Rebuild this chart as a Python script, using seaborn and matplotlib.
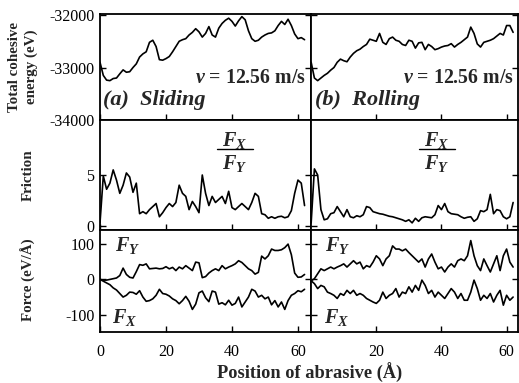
import numpy as np
import pandas as pd
import matplotlib
matplotlib.use("Agg")
import matplotlib.pyplot as plt
from matplotlib.lines import Line2D
import seaborn as sns

# ---------------- data ----------------
pos_left = list(range(0, 63))    # 0..62 Å
pos_right = list(range(0, 63))

energy_sliding = [-32900, -33150, -33240, -33250, -33210, -33200, -33120, -33045, -33090, -33080,
                  -33000, -32930, -32800, -32740, -32700, -32520, -32480, -32600, -32850, -32860,
                  -32830, -32790, -32700, -32600, -32500, -32470, -32450, -32380, -32330, -32260,
                  -32320, -32420, -32350, -32220, -32380, -32420, -32250, -32160, -32100, -32060,
                  -32120, -32210, -32110, -32030, -32090, -32300, -32450, -32500, -32480, -32420,
                  -32380, -32350, -32340, -32300, -32200, -32120, -32180, -32080, -32200, -32360,
                  -32450, -32430, -32470]
energy_rolling = [-32900, -33200, -33250, -33200, -33150, -33110, -33050, -33000, -32900, -32840,
                  -32870, -32890, -32800, -32730, -32680, -32650, -32600, -32560, -32460, -32480,
                  -32500, -32350, -32520, -32560, -32450, -32420, -32480, -32500, -32560, -32580,
                  -32480, -32500, -32630, -32530, -32520, -32660, -32560, -32600, -32660, -32640,
                  -32610, -32590, -32580, -32545, -32610, -32560, -32520, -32470, -32420, -32230,
                  -32350, -32550, -32610, -32520, -32500, -32480, -32450, -32400, -32350, -32380,
                  -32200, -32200, -32330]

friction_sliding = [0.3, 4.9, 3.6, 4.2, 5.5, 4.5, 3.2, 4.0, 5.2, 4.8,
                    3.3, 4.2, 1.2, 1.4, 1.2, 1.6, 1.9, 2.2, 0.9, 1.3,
                    1.8, 2.2, 1.9, 2.3, 4.0, 3.2, 2.9, 1.6, 2.4, 1.9,
                    1.3, 5.0, 3.2, 2.0, 2.9, 2.3, 2.6, 2.9, 2.2, 3.4,
                    1.8, 1.6, 1.9, 2.2, 1.9, 1.6, 2.3, 3.2, 2.9, 1.2,
                    1.1, 0.75, 0.9, 0.75, 0.9, 0.95, 0.8, 0.9, 1.5, 3.2,
                    4.5, 4.2, 2.0]
friction_rolling = [0.3, 5.6, 5.0, 1.6, 0.6, 0.7, 1.2, 1.3, 1.9, 1.4,
                    0.9, 1.6, 0.9, 0.8, 1.0, 0.9, 1.1, 1.9, 1.8, 1.4,
                    1.3, 1.2, 1.15, 1.05, 0.95, 0.9, 0.8, 0.7, 0.6, 0.45,
                    0.6, 0.3, 0.75, 0.45, 0.8, 0.9, 0.85, 0.8, 1.1, 2.0,
                    1.6, 2.2, 1.4, 1.2, 1.15, 1.1, 0.9, 0.75, 0.85, 0.9,
                    0.45, 0.7, 1.5, 1.4, 1.6, 3.1, 1.2, 1.6, 1.5, 0.9,
                    0.7, 0.9, 2.3]

fy_sliding = [0, -2, -2, 0, 2, 4, 11, 32, 14, 6,
              4, 22, 42, 40, 44, 30, 31, 32, 30, 31,
              36, 30, 34, 25, 35, 30, 39, 32, 25, 49,
              47, 5, 8, 18, 25, 30, 25, 39, 30, 35,
              39, 44, 53, 48, 39, 30, 25, 15, 20, 66,
              58, 67, 86, 82, 82, 84, 90, 100, 70, 18,
              6, 7, 14]
fx_sliding = [0, -5, -10, -15, -24, -30, -40, -50, -45, -36,
              -37, -42, -32, -50, -62, -60, -55, -45, -28, -40,
              -42, -47, -55, -60, -69, -60, -48, -62, -85, -70,
              -38, -33, -52, -63, -33, -36, -70, -66, -72, -59,
              -73, -68, -50, -78, -64, -50, -28, -33, -50, -45,
              -55, -50, -72, -60, -78, -64, -85, -60, -45, -40,
              -32, -35, -28]
fy_rolling = [-4, 2, 16, 30, 25, 30, 35, 30, 35, 39,
              44, 35, 44, 53, 44, 49, 30, 39, 35, 49,
              67, 58, 39, 58, 67, 95, 86, 86, 81, 86,
              76, 67, 58, 49, 58, 35, 58, 72, 49, 30,
              35, 21, 35, 44, 35, 53, 58, 53, 67, 110,
              67, 39, 25, 58, 39, 21, 44, 67, 25, 67,
              86, 49, 35]
fx_rolling = [-4, -12, -26, -17, -21, -36, -40, -45, -54, -40,
              -45, -31, -40, -31, -45, -40, -45, -54, -59, -64,
              -68, -59, -36, -54, -45, -40, -26, -50, -36, -40,
              -21, -36, -17, -31, -2, -17, -40, -31, -50, -36,
              -45, -54, -40, -26, -36, -54, -40, -59, -59, -36,
              -2, -26, -59, -45, -54, -40, -64, -45, -31, -73,
              -45, -59, -50]

x_ticks_left = [0, 20, 40, 60]
x_ticks_right = [20, 40, 60]
energy_ticks = [-34000, -33000, -32000]
friction_ticks = [0, 5]
force_ticks = [-100, 0, 100]

# ---------------- style ----------------
sns.set_style("ticks")
plt.rcParams["font.family"] = ["Liberation Serif", "DejaVu Serif"]
plt.rcParams["axes.unicode_minus"] = False
plt.rcParams["mathtext.fontset"] = "custom"
plt.rcParams["mathtext.it"] = "Liberation Serif:italic:bold"
plt.rcParams["mathtext.rm"] = "Liberation Serif:bold"
plt.rcParams["mathtext.bf"] = "Liberation Serif:bold"

W, H = 519, 383
fig = plt.figure(figsize=(W / 100, H / 100), dpi=100)

def fx(px):
    return px / W

def fy(py):
    return 1 - py / H

x_edges = [100, 310.5, 518]
y_edges = [14, 120, 230, 332]

axes = [[None, None] for _ in range(3)]
for r in range(3):
    for c in range(2):
        l = fx(x_edges[c]); w = fx(x_edges[c + 1]) - l
        b = fy(y_edges[r + 1]); h = fy(y_edges[r]) - b
        axes[r][c] = fig.add_axes([l, b, w, h])

df_l = pd.DataFrame({"pos": pos_left, "E": energy_sliding, "mu": friction_sliding,
                     "Fy": fy_sliding, "Fx": fx_sliding})
df_r = pd.DataFrame({"pos": pos_right, "E": energy_rolling, "mu": friction_rolling,
                     "Fy": fy_rolling, "Fx": fx_rolling})

lw = 1.2
for c, df in enumerate([df_l, df_r]):
    sns.lineplot(data=df, x="pos", y="E", ax=axes[0][c], color="black", lw=lw)
    sns.lineplot(data=df, x="pos", y="mu", ax=axes[1][c], color="black", lw=lw)
    sns.lineplot(data=df, x="pos", y="Fy", ax=axes[2][c], color="black", lw=lw)
    sns.lineplot(data=df, x="pos", y="Fx", ax=axes[2][c], color="black", lw=lw)

ylims = [(-34000, -31980), (-0.4, 10.4), (-149, 140)]
yticks = [energy_ticks, friction_ticks, force_ticks]
for r in range(3):
    for c in range(2):
        ax = axes[r][c]
        ax.set_xlabel("")
        ax.set_ylabel("")
        ax.set_ylim(*ylims[r])
        if c == 0:
            ax.set_xlim(0, 63.8)
            ax.set_xticks(x_ticks_left)
        else:
            ax.set_xlim(-0.2, 63.5)
            ax.set_xticks(x_ticks_right)
        ax.set_yticks(yticks[r])
        for s in ax.spines.values():
            s.set_visible(True)
            s.set_linewidth(1.3)
            s.set_color("black")
        ax.tick_params(direction="in", length=4, width=1, colors="black",
                       labelsize=11.5, right=True, top=False, pad=4)
        ax.tick_params(axis="x", pad=9)
        if r < 2:
            ax.tick_params(labelbottom=False)
        if c == 1:
            ax.tick_params(labelleft=False)

# axis labels
fig.text(fx(310), fy(373), "Position of abrasive (Å)", ha="center", va="center",
         fontsize=13.2, fontweight="bold")
fig.text(fx(23), fy(67), "Total cohesive\nenergy (eV)", ha="center", va="center",
         rotation=90, fontsize=10.8, fontweight="bold", linespacing=1.25)
fig.text(fx(28), fy(175), "Friction", ha="center", va="center",
         rotation=90, fontsize=10.8, fontweight="bold")
fig.text(fx(28), fy(280), "Force (eV/Å)", ha="center", va="center",
         rotation=90, fontsize=10.8, fontweight="bold")

# annotations
for xr in [306, 514]:
    fig.text(fx(xr), fy(78), r"$v$ = 12.56 m/s", ha="right", va="center",
             fontsize=14.3, fontweight="bold")
fig.text(fx(103), fy(100), "(a)  Sliding", ha="left", va="center",
         fontsize=16, fontweight="bold", style="italic")
fig.text(fx(315), fy(100), "(b)  Rolling", ha="left", va="center",
         fontsize=16, fontweight="bold", style="italic")

for xc in [235, 437]:
    fig.text(fx(xc), fy(140), r"$F_X$", ha="center", va="center", fontsize=14.5)
    fig.add_artist(Line2D([fx(xc - 18), fx(xc + 18)], [fy(149), fy(149)],
                          color="black", lw=1.0, transform=fig.transFigure))
    fig.text(fx(xc), fy(164), r"$F_Y$", ha="center", va="center", fontsize=14.5)

fig.text(fx(128), fy(245), r"$F_Y$", ha="center", va="center", fontsize=14.5)
fig.text(fx(125), fy(317), r"$F_X$", ha="center", va="center", fontsize=14.5)
fig.text(fx(338), fy(245), r"$F_Y$", ha="center", va="center", fontsize=14.5)
fig.text(fx(337), fy(317), r"$F_X$", ha="center", va="center", fontsize=14.5)

fig.savefig("out.png", dpi=100)
